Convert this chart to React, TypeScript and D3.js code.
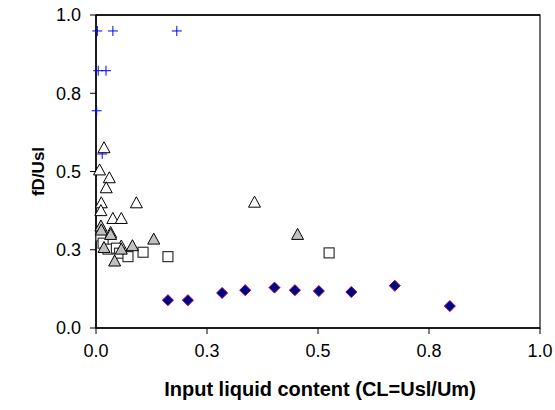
import React from "react";
import * as d3 from "d3";

// Series values: [CL, fD/Usl]
const diamondSeries: [number, number][] = [
  [0.162, 0.089], [0.207, 0.089], [0.284, 0.112], [0.336, 0.121], [0.402, 0.129],
  [0.448, 0.121], [0.502, 0.118], [0.575, 0.115], [0.673, 0.135], [0.797, 0.070],
];
const crossSeries: [number, number][] = [
  [0.003, 0.949], [0.038, 0.949], [0.182, 0.949], [0.005, 0.822], [0.0225, 0.822],
  [0.0015, 0.694], [0.014, 0.556],
];
const openTriangleSeries: [number, number][] = [
  [0.018, 0.576], [0.008, 0.505], [0.030, 0.480], [0.023, 0.448], [0.012, 0.400],
  [0.091, 0.400], [0.011, 0.375], [0.038, 0.350], [0.057, 0.350], [0.357, 0.402],
  [0.033, 0.305], [0.057, 0.262],
];
const squareSeries: [number, number][] = [
  [0.011, 0.294], [0.016, 0.271], [0.027, 0.252], [0.046, 0.255], [0.053, 0.239],
  [0.072, 0.228], [0.106, 0.242], [0.162, 0.228], [0.525, 0.240],
];
const greyTriangleSeries: [number, number][] = [
  [0.011, 0.326], [0.012, 0.313], [0.033, 0.299], [0.130, 0.284], [0.082, 0.263],
  [0.042, 0.214], [0.454, 0.299], [0.018, 0.257], [0.057, 0.252],
];

const xTicks = [0, 0.25, 0.5, 0.75, 1.0];
const yTicks = [0, 0.25, 0.5, 0.75, 1.0];
const xTickLabels = ["0.0", "0.3", "0.5", "0.8", "1.0"];
const yTickLabels = ["0.0", "0.3", "0.5", "0.8", "1.0"];

const xTitle = "Input liquid content (CL=Usl/Um)";
const yTitle = "fD/Usl";

const W = 555;
const H = 410;
const plot = { left: 96, right: 540, top: 15, bottom: 328 };
const font = "Liberation Sans, Arial, sans-serif";

export default function App() {
  const x = d3.scaleLinear().domain([0, 1]).range([plot.left, plot.right]);
  const y = d3.scaleLinear().domain([0, 1]).range([plot.bottom, plot.top]);

  const tri = (cx: number, cy: number) => {
    const p = d3.path();
    p.moveTo(cx, cy - 6);
    p.lineTo(cx + 6, cy + 5);
    p.lineTo(cx - 6, cy + 5);
    p.closePath();
    return p.toString();
  };
  const diamond = (cx: number, cy: number) => {
    const p = d3.path();
    p.moveTo(cx, cy - 5.5);
    p.lineTo(cx + 5.5, cy);
    p.lineTo(cx, cy + 5.5);
    p.lineTo(cx - 5.5, cy);
    p.closePath();
    return p.toString();
  };

  return (
    <svg width={W} height={H} style={{ position: "absolute", left: 0, top: 0, background: "#fff" }}>
      {/* plot frame */}
      <rect
        x={plot.left}
        y={plot.top}
        width={plot.right - plot.left}
        height={plot.bottom - plot.top}
        fill="none"
        stroke="#404040"
        strokeWidth={1.5}
      />
      {/* axes */}
      <line x1={plot.left} x2={plot.left} y1={plot.top} y2={plot.bottom} stroke="#000" strokeWidth={1.5} />
      <line x1={plot.left} x2={plot.right} y1={plot.bottom} y2={plot.bottom} stroke="#000" strokeWidth={1.5} />
      <line x1={plot.left} x2={plot.right} y1={plot.top} y2={plot.top} stroke="#000" strokeWidth={1.5} />

      {yTicks.map((t, i) => (
        <g key={"y" + i}>
          <line x1={plot.left - 6} x2={plot.left} y1={y(t)} y2={y(t)} stroke="#000" strokeWidth={1} />
          <text x={plot.left - 15} y={y(t)} dy="0.35em" textAnchor="end" fontFamily={font} fontSize={18}>
            {yTickLabels[i]}
          </text>
        </g>
      ))}
      {xTicks.map((t, i) => (
        <g key={"x" + i}>
          <line x1={x(t)} x2={x(t)} y1={plot.bottom} y2={plot.bottom + 6} stroke="#000" strokeWidth={1} />
          <text x={x(t)} y={plot.bottom + 29} textAnchor="middle" fontFamily={font} fontSize={18}>
            {xTickLabels[i]}
          </text>
        </g>
      ))}

      <text
        x={(plot.left + plot.right) / 2 + 2}
        y={396}
        textAnchor="middle"
        fontFamily={font}
        fontSize={20}
        fontWeight="bold"
      >
        {xTitle}
      </text>
      <text
        transform={`translate(44,${(plot.top + plot.bottom) / 2}) rotate(-90)`}
        textAnchor="middle"
        fontFamily={font}
        fontSize={17}
        fontWeight="bold"
      >
        {yTitle}
      </text>

      {/* markers */}
      {diamondSeries.map(([a, b], i) => (
        <path key={"d" + i} d={diamond(x(a), y(b))} fill="#000080" stroke="#800080" strokeWidth={1} />
      ))}
      {crossSeries.map(([a, b], i) => (
        <g key={"c" + i} stroke="#0000ff" strokeWidth={1}>
          <line x1={x(a) - 5} x2={x(a) + 5} y1={y(b)} y2={y(b)} />
          <line x1={x(a)} x2={x(a)} y1={y(b) - 5} y2={y(b) + 5} />
        </g>
      ))}
      {openTriangleSeries.map(([a, b], i) => (
        <path key={"t" + i} d={tri(x(a), y(b))} fill="#fff" stroke="#000" strokeWidth={1} />
      ))}
      {squareSeries.map(([a, b], i) => (
        <rect
          key={"s" + i}
          x={x(a) - 5}
          y={y(b) - 5}
          width={10}
          height={10}
          fill="#fff"
          stroke="#333"
          strokeWidth={1.2}
        />
      ))}
      {greyTriangleSeries.map(([a, b], i) => (
        <path key={"g" + i} d={tri(x(a), y(b))} fill="#c0c0c0" stroke="#000" strokeWidth={1} />
      ))}
    </svg>
  );
}
